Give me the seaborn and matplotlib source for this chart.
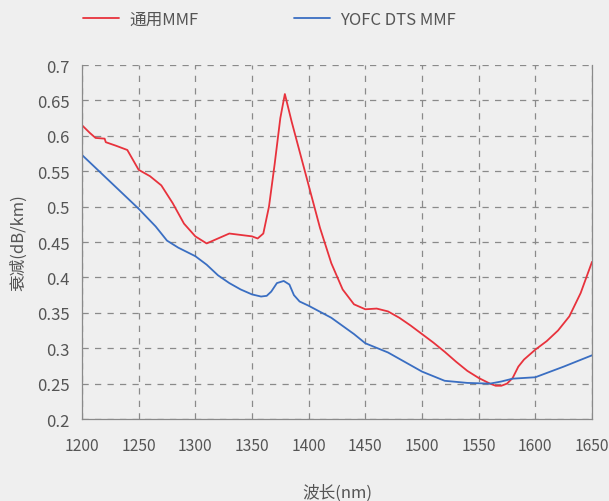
import matplotlib
matplotlib.use('Agg')

import pandas as pd
import matplotlib.pyplot as plt
import seaborn as sns

# Wavelength (nm) and attenuation (dB/km)
red_x = [1200, 1207, 1212, 1220, 1221, 1230, 1240, 1250, 1260, 1270, 1280, 1290,
         1300, 1310, 1320, 1330, 1340, 1350, 1355, 1360, 1365, 1370, 1375, 1379,
         1385, 1390, 1400, 1410, 1420, 1430, 1440, 1450, 1460, 1470, 1480, 1490,
         1500, 1510, 1520, 1530, 1540, 1550, 1560, 1565, 1570, 1575, 1580, 1585,
         1590, 1600, 1610, 1620, 1630, 1640, 1650]
red_y = [0.615, 0.604, 0.597, 0.596, 0.591, 0.586, 0.580, 0.552, 0.543, 0.530, 0.505, 0.476,
         0.458, 0.448, 0.455, 0.462, 0.460, 0.458, 0.455, 0.462, 0.500, 0.560, 0.625, 0.659,
         0.620, 0.590, 0.530, 0.470, 0.420, 0.383, 0.362, 0.355, 0.356, 0.352, 0.343, 0.332,
         0.320, 0.308, 0.295, 0.281, 0.268, 0.258, 0.250, 0.247, 0.247, 0.250, 0.258, 0.274,
         0.284, 0.298, 0.310, 0.325, 0.345, 0.378, 0.422]

blue_x = [1200, 1225, 1250, 1265, 1275, 1285, 1300, 1310, 1320, 1330, 1340, 1350,
          1358, 1363, 1367, 1372, 1378, 1383, 1387, 1392, 1400, 1420, 1440, 1450,
          1470, 1500, 1520, 1540, 1560, 1570, 1580, 1600, 1625, 1650]
blue_y = [0.573, 0.535, 0.497, 0.472, 0.452, 0.442, 0.430, 0.418, 0.403, 0.392, 0.383, 0.376,
          0.373, 0.374, 0.380, 0.392, 0.395, 0.390, 0.375, 0.366, 0.360, 0.343, 0.320, 0.307,
          0.294, 0.267, 0.254, 0.251, 0.250, 0.253, 0.257, 0.259, 0.274, 0.290]

series_names = ['通用MMF', 'YOFC DTS MMF']
x_ticks = [1200, 1250, 1300, 1350, 1400, 1450, 1500, 1550, 1600, 1650]
y_ticks = [0.2, 0.25, 0.3, 0.35, 0.4, 0.45, 0.5, 0.55, 0.6, 0.65, 0.7]
y_tick_labels = ['0.2', '0.25', '0.3', '0.35', '0.4', '0.45', '0.5', '0.55', '0.6', '0.65', '0.7']

df = pd.concat([
    pd.DataFrame({'wl': red_x, 'att': red_y, 'series': series_names[0]}),
    pd.DataFrame({'wl': blue_x, 'att': blue_y, 'series': series_names[1]}),
])

sns.set_style('white')
plt.rcParams['font.family'] = ['Noto Sans CJK SC', 'DejaVu Sans']
plt.rcParams['font.weight'] = 'light'

bg = '#efefef'
text_col = '#555555'
grid_col = '#8a8a8a'

fig = plt.figure(figsize=(6.09, 5.02), dpi=100, facecolor=bg)
ax = fig.add_axes([0.1346, 0.1633, 0.8375, 0.7052])
ax.set_facecolor(bg)

sns.lineplot(
    data=df, x='wl', y='att', hue='series',
    palette={series_names[0]: '#e8323c', series_names[1]: '#3a6ec2'},
    linewidth=1.3, ax=ax, sort=False
)

ax.set_xlim(1200, 1650)
ax.set_ylim(0.2, 0.7)
ax.set_xticks(x_ticks)
ax.set_yticks(y_ticks)
ax.set_yticklabels(y_tick_labels)

ax.grid(True, linestyle=(0, (5, 5)), color=grid_col, linewidth=0.9)
ax.tick_params(axis='both', colors=text_col, width=0.8)
ax.tick_params(axis='x', direction='out', length=4, pad=9, color=grid_col, labelsize=11.3)
ax.tick_params(axis='y', direction='out', length=3, pad=6, color=grid_col, labelsize=12)

for side in ['left', 'bottom', 'right']:
    ax.spines[side].set_color(grid_col)
    ax.spines[side].set_linewidth(0.9)
ax.spines['top'].set_visible(False)

ax.set_xlabel('波长(nm)', color=text_col, fontsize=12, labelpad=21)
ax.set_ylabel('衰减(dB/km)', color=text_col, fontsize=12, labelpad=7)

ax.legend(
    loc='center left', bbox_to_anchor=(0.136, 0.96), bbox_transform=fig.transFigure,
    ncol=2, frameon=False, borderaxespad=0, borderpad=0,
    fontsize=12, handlelength=2.2, columnspacing=5.7, handletextpad=0.6,
    labelcolor=text_col
)

plt.savefig('out.png', dpi=100, facecolor=bg)
plt.close()
